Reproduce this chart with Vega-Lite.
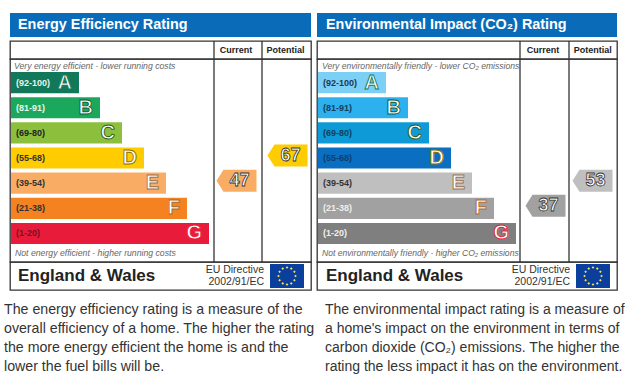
{
"$schema":"https://vega.github.io/schema/vega-lite/v6.json",
"background":"white",
"padding":{"left":4,"top":13,"right":0,"bottom":0},
"bounds":"flush",
"columns":2,
"spacing":{"row":0,"column":6},
"config":{"font":"Liberation Sans","view":{"stroke":null}},
"datasets":{
"bandsL":[{"band":"A","range":"(92-100)","length":68},{"band":"B","range":"(81-91)","length":89},{"band":"C","range":"(69-80)","length":111},{"band":"D","range":"(55-68)","length":133},{"band":"E","range":"(39-54)","length":155},{"band":"F","range":"(21-38)","length":176},{"band":"G","range":"(1-20)","length":198}],
"bandsR":[{"band":"A","range":"(92-100)","length":68},{"band":"B","range":"(81-91)","length":90},{"band":"C","range":"(69-80)","length":111},{"band":"D","range":"(55-68)","length":133},{"band":"E","range":"(39-54)","length":154},{"band":"F","range":"(21-38)","length":176},{"band":"G","range":"(1-20)","length":198}],
"cols":[{"col":"Current"},{"col":"Potential"}],
"stars":[{"e":0,"n":1},{"e":0.5,"n":0.87},{"e":0.87,"n":0.5},{"e":1,"n":0},{"e":0.87,"n":-0.5},{"e":0.5,"n":-0.87},{"e":0,"n":-1},{"e":-0.5,"n":-0.87},{"e":-0.87,"n":-0.5},{"e":-1,"n":0},{"e":-0.87,"n":0.5},{"e":-0.5,"n":0.87}],
"eu":[{"t":"EU Directive"},{"t":"2002/91/EC"}]
},
"concat":[
{"width":301,"height":28,"layer":[
{"data":{"values":[{"t":"bar"}]},"mark":{"type":"rect","color":"#0a6cb9"},"encoding":{"x":{"datum":0,"scale":{"domain":[0,301]},"axis":null},"x2":{"datum":301},"y":{"datum":0,"scale":{"domain":[28,0]},"axis":null},"y2":{"datum":24}}},
{"data":{"values":[{"t":"Energy Efficiency Rating"}]},"mark":{"type":"text","align":"left","fontSize":14.4,"fontWeight":"bold","color":"white","dx":8},"encoding":{"x":{"datum":0,"scale":{"domain":[0,301]},"axis":null},"y":{"datum":12,"scale":{"domain":[28,0]},"axis":null},"text":{"field":"t"}}}
]},
{"width":300,"height":28,"layer":[
{"data":{"values":[{"t":"bar"}]},"mark":{"type":"rect","color":"#0a6cb9"},"encoding":{"x":{"datum":0,"scale":{"domain":[0,300]},"axis":null},"x2":{"datum":300},"y":{"datum":0,"scale":{"domain":[28,0]},"axis":null},"y2":{"datum":24}}},
{"data":{"values":[{"t":"Environmental Impact (CO₂) Rating"}]},"mark":{"type":"text","align":"left","dx":9,"fontSize":14.4,"fontWeight":"bold","color":"white"},"encoding":{"x":{"datum":0,"scale":{"domain":[0,300]},"axis":null},"y":{"datum":12,"scale":{"domain":[28,0]},"axis":null},"text":{"field":"t"}}}
]},
{"width":301,"height":18,"view":{"stroke":"#333","strokeWidth":1.3},"resolve":{"scale":{"x":"independent"}},"layer":[
{"data":{"name":"cols"},"mark":{"type":"rule","color":"#333","strokeWidth":1.3},"encoding":{"x":{"field":"col","type":"ordinal","scale":{"type":"point","domain":["Current","Potential"],"range":[204,252],"padding":0},"axis":null}}},
{"data":{"name":"cols"},"mark":{"type":"text","fontSize":9,"fontWeight":"bold","color":"#222"},"encoding":{"x":{"field":"col","type":"ordinal","scale":{"type":"point","domain":["Current","Potential"],"range":[226,275.5],"padding":0},"axis":null},"text":{"field":"col"}}}
]},
{"width":300,"height":18,"view":{"stroke":"#333","strokeWidth":1.3},"resolve":{"scale":{"x":"independent"}},"layer":[
{"data":{"name":"cols"},"mark":{"type":"rule","color":"#333","strokeWidth":1.3},"encoding":{"x":{"field":"col","type":"ordinal","scale":{"type":"point","domain":["Current","Potential"],"range":[203,252],"padding":0},"axis":null}}},
{"data":{"name":"cols"},"mark":{"type":"text","fontSize":9,"fontWeight":"bold","color":"#222"},"encoding":{"x":{"field":"col","type":"ordinal","scale":{"type":"point","domain":["Current","Potential"],"range":[226,275.7],"padding":0},"axis":null},"text":{"field":"col"}}}
]},
{"width":301,"height":203,"view":{"stroke":"#333","strokeWidth":1.3},"resolve":{"scale":{"x":"independent","color":"independent"}},"layer":[
{"data":{"name":"cols"},"mark":{"type":"rule","color":"#333","strokeWidth":1.3},"encoding":{"x":{"field":"col","type":"ordinal","scale":{"type":"point","domain":["Current","Potential"],"range":[204,252],"padding":0},"axis":null}}},
{"data":{"name":"bandsL"},"mark":{"type":"bar"},"encoding":{
"x":{"field":"length","type":"quantitative","scale":{"domain":[-1,300]},"axis":null},
"y":{"field":"band","type":"nominal","scale":{"type":"band","domain":["top","A","B","C","D","E","F","G","bottom"],"range":[-12.15,210.2],"paddingInner":0.16,"paddingOuter":0},"axis":null},
"color":{"field":"band","type":"nominal","legend":null,"scale":{"domain":["A","B","C","D","E","F","G"],"range":["#11795a","#1ba85c","#8cc03c","#ffcc00","#f9ac64","#f58220","#e81c3a"]}}}},
{"data":{"name":"bandsL"},"mark":{"type":"text","align":"left","dx":5,"fontSize":9,"fontWeight":"bold"},"encoding":{
"x":{"datum":0,"scale":{"domain":[-1,300]},"axis":null},
"y":{"field":"band","type":"nominal","axis":null},
"text":{"field":"range"},
"color":{"field":"band","type":"nominal","legend":null,"scale":{"domain":["A","B","C","D","E","F","G"],"range":["#e8f4ee","#e8f8ee","#222222","#333333","#333333","#333333","#7a1020"]}}}},
{"data":{"name":"bandsL"},"mark":{"type":"text","align":"right","dx":-7,"fontSize":20,"fontWeight":"bold","fill":"white","strokeWidth":0.9},"encoding":{
"x":{"field":"length","type":"quantitative","scale":{"domain":[-1,300]},"axis":null},
"y":{"field":"band","type":"nominal","axis":null},
"text":{"field":"band"},
"stroke":{"field":"band","type":"nominal","legend":null,"scale":{"domain":["A","B","C","D","E","F","G"],"range":["#11795a","#0c5a38","#2d5c18","#8a7000","#9a7050","#a86a30","#e81c3a"]}}}},
{"data":{"values":[{"band":"top","note":"Very energy efficient - lower running costs"}]},"mark":{"type":"text","align":"left","dx":3,"dy":8.6,"fontSize":8.7,"fontStyle":"italic","color":"#666"},"encoding":{"x":{"datum":0,"scale":{"domain":[-1,300]},"axis":null},"y":{"field":"band","type":"nominal","axis":null},"text":{"field":"note"}}},
{"data":{"values":[{"band":"bottom","note":"Not energy efficient - higher running costs"}]},"mark":{"type":"text","align":"left","dx":4,"dy":-5.7,"fontSize":8.7,"fontStyle":"italic","color":"#666"},"encoding":{"x":{"datum":0,"scale":{"domain":[-1,300]},"axis":null},"y":{"field":"band","type":"nominal","axis":null},"text":{"field":"note"}}},
{"data":{"values":[{"col":"Current","band":"E","rating":47},{"col":"Potential","band":"D","rating":67}]},"mark":{"type":"point","filled":true,"opacity":1,"size":1600,"yOffset":-2.5,"shape":"M-1 0L-0.65 -0.55L1 -0.55L1 0.55L-0.65 0.55Z"},"encoding":{
"x":{"field":"col","type":"ordinal","scale":{"type":"point","domain":["Current","Potential"],"range":[226.5,277.5],"padding":0},"axis":null},
"y":{"field":"band","type":"nominal","axis":null},
"color":{"field":"band","type":"nominal","legend":null,"scale":{"domain":["D","E"],"range":["#ffcc00","#f9ac64"]}}}},
{"data":{"values":[{"col":"Current","band":"E","rating":47},{"col":"Potential","band":"D","rating":67}]},"mark":{"type":"text","dx":3,"dy":-2.5,"fontSize":18,"fontWeight":"bold","fill":"white","stroke":"#333","strokeWidth":0.8},"encoding":{
"x":{"field":"col","type":"ordinal","scale":{"type":"point","domain":["Current","Potential"],"range":[226.5,277.5],"padding":0},"axis":null},
"y":{"field":"band","type":"nominal","axis":null},
"text":{"field":"rating","type":"quantitative"}}}
]},
{"width":300,"height":203,"view":{"stroke":"#333","strokeWidth":1.3},"resolve":{"scale":{"x":"independent","color":"independent"}},"layer":[
{"data":{"name":"cols"},"mark":{"type":"rule","color":"#333","strokeWidth":1.3},"encoding":{"x":{"field":"col","type":"ordinal","scale":{"type":"point","domain":["Current","Potential"],"range":[203,252],"padding":0},"axis":null}}},
{"data":{"name":"bandsR"},"mark":{"type":"bar"},"encoding":{
"x":{"field":"length","type":"quantitative","scale":{"domain":[-1,299]},"axis":null},
"y":{"field":"band","type":"nominal","scale":{"type":"band","domain":["top","A","B","C","D","E","F","G","bottom"],"range":[-12.15,210.2],"paddingInner":0.16,"paddingOuter":0},"axis":null},
"color":{"field":"band","type":"nominal","legend":null,"scale":{"domain":["A","B","C","D","E","F","G"],"range":["#7ccff5","#2db1ee","#0e9ad6","#0a6fc0","#bfbfbf","#a1a1a1","#7f7f7f"]}}}},
{"data":{"name":"bandsR"},"mark":{"type":"text","align":"left","dx":5,"fontSize":9,"fontWeight":"bold"},"encoding":{
"x":{"datum":0,"scale":{"domain":[-1,299]},"axis":null},
"y":{"field":"band","type":"nominal","axis":null},
"text":{"field":"range"},
"color":{"field":"band","type":"nominal","legend":null,"scale":{"domain":["A","B","C","D","E","F","G"],"range":["#1a3a55","#14405f","#123f60","#0a3f70","#333333","#eeeeee","#f0f0f0"]}}}},
{"data":{"name":"bandsR"},"mark":{"type":"text","align":"right","dx":-7,"fontSize":20,"fontWeight":"bold","fill":"white","strokeWidth":0.9},"encoding":{
"x":{"field":"length","type":"quantitative","scale":{"domain":[-1,299]},"axis":null},
"y":{"field":"band","type":"nominal","axis":null},
"text":{"field":"band"},
"stroke":{"field":"band","type":"nominal","legend":null,"scale":{"domain":["A","B","C","D","E","F","G"],"range":["#2a5a80","#153f60","#0c4a70","#0a3f70","#8a8a8a","#6a6a6a","#333333"]}}}},
{"data":{"values":[{"band":"top","note":"Very environmentally friendly - lower CO₂ emissions"}]},"mark":{"type":"text","align":"left","dx":4,"dy":8.6,"fontSize":8.6,"fontStyle":"italic","color":"#666"},"encoding":{"x":{"datum":0,"scale":{"domain":[-1,299]},"axis":null},"y":{"field":"band","type":"nominal","axis":null},"text":{"field":"note"}}},
{"data":{"values":[{"band":"bottom","note":"Not environmentally friendly - higher CO₂ emissions"}]},"mark":{"type":"text","align":"left","dx":4,"dy":-5.7,"fontSize":8.6,"fontStyle":"italic","color":"#666"},"encoding":{"x":{"datum":0,"scale":{"domain":[-1,299]},"axis":null},"y":{"field":"band","type":"nominal","axis":null},"text":{"field":"note"}}},
{"data":{"values":[{"col":"Current","band":"F","rating":37},{"col":"Potential","band":"E","rating":53}]},"mark":{"type":"point","filled":true,"opacity":1,"size":1600,"yOffset":-2.5,"shape":"M-1 0L-0.65 -0.55L1 -0.55L1 0.55L-0.65 0.55Z"},"encoding":{
"x":{"field":"col","type":"ordinal","scale":{"type":"point","domain":["Current","Potential"],"range":[228.5,275.5],"padding":0},"axis":null},
"y":{"field":"band","type":"nominal","axis":null},
"color":{"field":"band","type":"nominal","legend":null,"scale":{"domain":["E","F"],"range":["#bfbfbf","#a1a1a1"]}}}},
{"data":{"values":[{"col":"Current","band":"F","rating":37},{"col":"Potential","band":"E","rating":53}]},"mark":{"type":"text","dx":3,"dy":-2.5,"fontSize":18,"fontWeight":"bold","fill":"white","stroke":"#333","strokeWidth":0.8},"encoding":{
"x":{"field":"col","type":"ordinal","scale":{"type":"point","domain":["Current","Potential"],"range":[228.5,275.5],"padding":0},"axis":null},
"y":{"field":"band","type":"nominal","axis":null},
"text":{"field":"rating","type":"quantitative"}}}
]},
{"width":301,"height":28,"view":{"stroke":"#333","strokeWidth":1.3},"resolve":{"scale":{"x":"independent","y":"independent"}},"layer":[
{"data":{"values":[{"t":"England & Wales"}]},"mark":{"type":"text","align":"left","dx":8,"fontSize":17,"fontWeight":"bold","color":"#222"},"encoding":{"x":{"datum":0,"scale":{"domain":[0,301]},"axis":null},"text":{"field":"t"}}},
{"data":{"name":"eu"},"mark":{"type":"text","align":"right","fontSize":10.5,"color":"#333"},"encoding":{"x":{"datum":254,"scale":{"domain":[0,301]},"axis":null},"y":{"field":"t","type":"nominal","scale":{"type":"point","domain":["EU Directive","2002/91/EC"],"range":[8,20],"padding":0},"axis":null},"text":{"field":"t"}}},
{"data":{"values":[{"flag":"EU"}]},"mark":{"type":"rect","color":"#0b3f9e"},"encoding":{"x":{"datum":260,"scale":{"domain":[0,301]},"axis":null},"x2":{"datum":294},"y":{"datum":2,"scale":{"domain":[28,0]},"axis":null},"y2":{"datum":26}}},
{"data":{"name":"stars"},"mark":{"type":"point","filled":true,"shape":"diamond","size":7,"color":"#ffe14a","opacity":1},"encoding":{"x":{"field":"e","type":"quantitative","scale":{"domain":[-2,2],"range":[260,294]},"axis":null},"y":{"field":"n","type":"quantitative","scale":{"domain":[1.41,-1.41],"range":[2,26]},"axis":null}}}
]},
{"width":300,"height":28,"view":{"stroke":"#333","strokeWidth":1.3},"resolve":{"scale":{"x":"independent","y":"independent"}},"layer":[
{"data":{"values":[{"t":"England & Wales"}]},"mark":{"type":"text","align":"left","dx":9,"fontSize":17,"fontWeight":"bold","color":"#222"},"encoding":{"x":{"datum":0,"scale":{"domain":[0,300]},"axis":null},"text":{"field":"t"}}},
{"data":{"name":"eu"},"mark":{"type":"text","align":"right","fontSize":10.5,"color":"#333"},"encoding":{"x":{"datum":253,"scale":{"domain":[0,300]},"axis":null},"y":{"field":"t","type":"nominal","scale":{"type":"point","domain":["EU Directive","2002/91/EC"],"range":[8,20],"padding":0},"axis":null},"text":{"field":"t"}}},
{"data":{"values":[{"flag":"EU"}]},"mark":{"type":"rect","color":"#0b3f9e"},"encoding":{"x":{"datum":259,"scale":{"domain":[0,300]},"axis":null},"x2":{"datum":293},"y":{"datum":2,"scale":{"domain":[28,0]},"axis":null},"y2":{"datum":26}}},
{"data":{"name":"stars"},"mark":{"type":"point","filled":true,"shape":"diamond","size":7,"color":"#ffe14a","opacity":1},"encoding":{"x":{"field":"e","type":"quantitative","scale":{"domain":[-2,2],"range":[259,293]},"axis":null},"y":{"field":"n","type":"quantitative","scale":{"domain":[1.41,-1.41],"range":[2,26]},"axis":null}}}
]},
{"width":301,"height":89,
"data":{"values":[{"line":"1","t":"The energy efficiency rating is a measure of the"},{"line":"2","t":"overall efficiency of a home. The higher the rating"},{"line":"3","t":"the more energy efficient the home is and the"},{"line":"4","t":"lower the fuel bills will be."}]},
"mark":{"type":"text","align":"left","dx":-6,"fontSize":14.2,"color":"#333"},
"encoding":{"x":{"datum":0,"scale":{"domain":[0,301]},"axis":null},"y":{"field":"line","type":"ordinal","scale":{"type":"point","domain":["1","2","3","4"],"range":[20,77],"padding":0},"axis":null},"text":{"field":"t"}}},
{"width":300,"height":89,
"data":{"values":[{"line":"1","t":"The environmental impact rating is a measure of"},{"line":"2","t":"a home's impact on the environment in terms of"},{"line":"3","t":"carbon dioxide (CO₂) emissions. The higher the"},{"line":"4","t":"rating the less impact it has on the environment."}]},
"mark":{"type":"text","align":"left","dx":8,"fontSize":14,"color":"#333"},
"encoding":{"x":{"datum":0,"scale":{"domain":[0,300]},"axis":null},"y":{"field":"line","type":"ordinal","scale":{"type":"point","domain":["1","2","3","4"],"range":[20,77],"padding":0},"axis":null},"text":{"field":"t"}}}
]
}
